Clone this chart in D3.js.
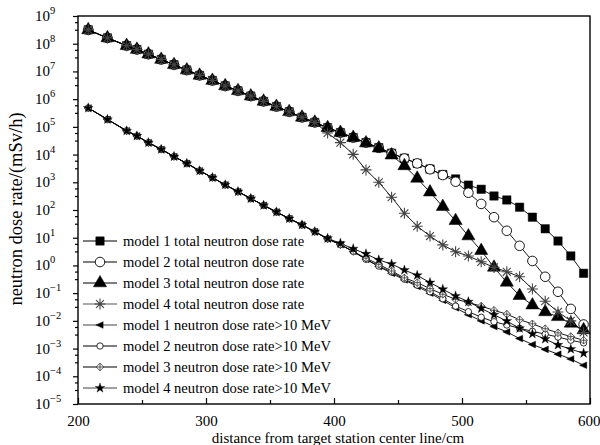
<!DOCTYPE html>
<html>
<head>
<meta charset="utf-8">
<script src="https://cdn.jsdelivr.net/npm/d3@7"></script>
<style>
  body { margin: 0; background: #fff; }
  text { font-family: "Liberation Serif", "Times New Roman", serif; fill: #000; }
</style>
</head>
<body>
<div id="chart"></div>
<script>
// distances (cm)
let distances = [208, 223, 238, 246, 255, 265, 275, 285, 295, 305, 315, 325, 335, 345, 355, 365, 375, 385,
    395, 405, 415, 425, 435, 445, 455, 465, 475, 485, 495, 505, 515, 525, 535, 545, 555, 565, 575, 585, 595];

// the four total curves lie on top of each other up to 385 cm
let totalHead = [3.16e8, 1.62e8, 8.5e7, 6.2e7, 4.2e7, 2.7e7, 1.74e7, 1.12e7, 7.2e6, 4.7e6, 3.0e6, 2.0e6,
    1.29e6, 8.3e5, 5.4e5, 3.5e5, 2.2e5, 1.45e5];
let model1TotalTail = [9.3e4, 6.2e4, 4.1e4, 2.7e4, 1.78e4, 1.12e4, 7.4e3, 4.8e3, 3.0e3, 1.9e3, 1.32e3, 790, 560,
    320, 230, 126, 55, 21, 7.6, 2.2, 0.52];
let model2TotalTail = [9.3e4, 6.2e4, 4.1e4, 2.7e4, 1.74e4, 1.1e4, 7.2e3, 4.8e3, 2.95e3, 1.82e3, 1.05e3, 420, 166,
    55, 17.8, 5.1, 1.45, 0.39, 0.112, 0.027, 0.0074];
let model3TotalTail = [9.3e4, 6.2e4, 4.1e4, 2.6e4, 1.7e4, 9.5e3, 3.9e3, 1.38e3, 440, 132, 41, 11.5, 3.4,
    0.85, 0.245, 0.081, 0.037, 0.021, 0.014, 0.0081, 0.0047];
let model4TotalTail = [6.0e4, 2.7e4, 1.02e4, 2.8e3, 1.0e3, 290, 76, 26, 11.5, 5.5, 3.1, 2.2, 1.35,
    0.85, 0.59, 0.39, 0.141, 0.051, 0.021, 0.01, 0.0038];

// >10 MeV curves, same up to 385 cm
let fastHead = [4.8e5, 1.86e5, 7.2e4, 4.7e4, 2.7e4, 1.55e4, 8.5e3, 4.8e3, 2.6e3, 1.48e3, 810, 460,
    260, 148, 85, 49, 29, 16.6];
let model1FastTail = [9.1, 5.6, 3.2, 1.66, 0.91, 0.52, 0.30, 0.174, 0.1, 0.055, 0.0295, 0.0166, 0.01,
    0.0062, 0.004, 0.0023, 0.0014, 9.3e-4, 6.3e-4, 4.2e-4, 2.5e-4];
let model2FastTail = [9.1, 5.6, 3.2, 1.66, 0.95, 0.575, 0.32, 0.195, 0.112, 0.063, 0.034, 0.0214, 0.0135,
    0.0093, 0.0071, 0.0054, 0.0042, 0.0033, 0.0026, 0.002, 0.0016];
let model3FastTail = [9.1, 5.6, 3.2, 1.82, 1.1, 0.63, 0.355, 0.24, 0.145, 0.091, 0.06, 0.046, 0.034,
    0.024, 0.0174, 0.011, 0.0078, 0.0052, 0.0037, 0.0027, 0.002];
let model4FastTail = [9.5, 6.3, 4.0, 2.6, 1.58, 1.12, 0.68, 0.44, 0.24, 0.138, 0.079, 0.049, 0.028,
    0.0166, 0.0098, 0.0054, 0.0034, 0.0022, 0.00135, 9.5e-4, 6.8e-4];

let seriesNames = [
    "model 1 total neutron dose rate",
    "model 2 total neutron dose rate",
    "model 3 total neutron dose rate",
    "model 4 total neutron dose rate",
    "model 1 neutron dose rate>10 MeV",
    "model 2 neutron dose rate>10 MeV",
    "model 3 neutron dose rate>10 MeV",
    "model 4 neutron dose rate>10 MeV"
];

let xTicks = [200, 300, 400, 500, 600];
let xMinorTicks = [250, 350, 450, 550];
let yExponents = [9, 8, 7, 6, 5, 4, 3, 2, 1, 0, -1, -2, -3, -4, -5];

let width = 600;
let height = 445;
let plotLeft = 78, plotRight = 590, plotTop = 16, plotBottom = 404;

let svg = d3.select("#chart")
    .append("svg")
    .attr("width", width)
    .attr("height", height);

let x = d3.scaleLinear().domain([200, 600]).range([plotLeft, plotRight]);
let y = d3.scaleLog().domain([1e-5, 1e9]).range([plotBottom, plotTop]);

// marker shapes
function asterisk(r) {
    let d = r * 0.72;
    return `M0,${-r}V${r}M${-r},0H${r}M${-d},${-d}L${d},${d}M${-d},${d}L${d},${-d}`;
}
function leftTriangle(r) {
    return `M${-r},0L${r * 0.75},${-r * 0.8}L${r * 0.75},${r * 0.8}Z`;
}
function crossDiamond(r) {
    return `M0,${-r}L${r},0L0,${r}L${-r},0ZM0,${-r}V${r}M${-r},0H${r}`;
}

let styles = [
    { path: d3.symbol(d3.symbolSquare, 70)(), fill: "#000", stroke: "#000", sw: 0.5, line: "#000" },
    { path: d3.symbol(d3.symbolCircle, 72)(), fill: "#fff", stroke: "#000", sw: 0.9, line: "#000" },
    { path: d3.symbol(d3.symbolTriangle, 75)(), fill: "#000", stroke: "#000", sw: 0.5, line: "#000" },
    { path: asterisk(5.5), fill: "none", stroke: "#444", sw: 1.1, line: "#555" },
    { path: leftTriangle(4.2), fill: "#000", stroke: "#000", sw: 0.4, line: "#444" },
    { path: d3.symbol(d3.symbolCircle, 32)(), fill: "#fff", stroke: "#000", sw: 0.8, line: "#000" },
    { path: crossDiamond(3.8), fill: "#fff", stroke: "#333", sw: 0.8, line: "#000" },
    { path: d3.symbol(d3.symbolStar, 30)(), fill: "#000", stroke: "#000", sw: 0.3, line: "#444" }
];

let seriesValues = [
    totalHead.concat(model1TotalTail),
    totalHead.concat(model2TotalTail),
    totalHead.concat(model3TotalTail),
    totalHead.concat(model4TotalTail),
    fastHead.concat(model1FastTail),
    fastHead.concat(model2FastTail),
    fastHead.concat(model3FastTail),
    fastHead.concat(model4FastTail)
];

let series = seriesNames.map(function (name, i) {
    return {
        name: name,
        style: styles[i],
        points: distances.map((d, j) => ({ x: d, y: seriesValues[i][j] }))
    };
});

// axes
let xAxis = d3.axisBottom(x).tickValues(xTicks).tickSize(-6).tickPadding(11).tickFormat(d3.format("d"));
let xMinor = d3.axisBottom(x).tickValues(xMinorTicks).tickSize(-4).tickFormat("");

svg.append("g")
    .attr("transform", `translate(0,${plotBottom})`)
    .call(xAxis)
    .call(g => g.selectAll("text").attr("font-size", 15))
    // last label sits flush with the right edge
    .call(g => g.selectAll("text").filter(d => d == 600).attr("text-anchor", "end").attr("x", 10));
svg.append("g")
    .attr("transform", `translate(0,${plotBottom})`)
    .call(xMinor);

let yMajor = yExponents.map(e => Math.pow(10, e));
let yMinor = [];
yExponents.slice(1).forEach(function (e) {
    yMinor.push(3.2 * Math.pow(10, e), 6 * Math.pow(10, e));
});

svg.append("g")
    .attr("transform", `translate(${plotLeft},0)`)
    .call(d3.axisLeft(y).tickValues(yMajor).tickSize(5).tickFormat(""));
svg.append("g")
    .attr("transform", `translate(${plotLeft},0)`)
    .call(d3.axisLeft(y).tickValues(yMinor).tickSize(3).tickFormat(""));

svg.selectAll(".domain").attr("stroke", "none");
svg.selectAll(".tick line").attr("stroke", "#000").attr("stroke-width", 1.2);

// power-of-ten labels
let yLabels = svg.append("g")
    .selectAll("text")
    .data(yExponents)
    .enter()
    .append("text")
    .attr("x", 35)
    .attr("y", d => y(Math.pow(10, d)) + 5)
    .attr("font-size", 15);
yLabels.append("tspan").text("10");
yLabels.append("tspan")
    .attr("dy", -7)
    .attr("font-size", 10.5)
    .text(d => (d < 0 ? "\u2212" + Math.abs(d) : d));

// frame
svg.append("rect")
    .attr("x", plotLeft)
    .attr("y", plotTop)
    .attr("width", plotRight - plotLeft)
    .attr("height", plotBottom - plotTop)
    .attr("fill", "none")
    .attr("stroke", "#000")
    .attr("stroke-width", 1.4);

let line = d3.line()
    .x(d => x(d.x))
    .y(d => y(d.y));

let plot = svg.append("g");

series.forEach(function (s) {
    plot.append("path")
        .datum(s.points)
        .attr("fill", "none")
        .attr("stroke", "#000")
        .attr("stroke-width", 0.9)
        .attr("d", line);
});

series.forEach(function (s) {
    plot.selectAll(null)
        .data(s.points)
        .enter()
        .append("path")
        .attr("transform", d => `translate(${x(d.x)},${y(d.y)})`)
        .attr("d", s.style.path)
        .attr("fill", s.style.fill)
        .attr("stroke", s.style.stroke)
        .attr("stroke-width", s.style.sw);
});

// legend
let legend = svg.append("g")
    .selectAll("g")
    .data(series)
    .enter()
    .append("g")
    .attr("transform", (d, i) => `translate(0,${241 + i * 21})`);

legend.append("line")
    .attr("x1", 83)
    .attr("x2", 117)
    .attr("stroke", d => d.style.line)
    .attr("stroke-width", 1.2);
legend.append("path")
    .attr("transform", "translate(100,0)")
    .attr("d", d => d.style.path)
    .attr("fill", d => d.style.fill)
    .attr("stroke", d => d.style.stroke)
    .attr("stroke-width", d => d.style.sw);
legend.append("text")
    .attr("x", 123)
    .attr("y", 5)
    .attr("font-size", 14.6)
    .text(d => d.name);

// axis titles
svg.append("text")
    .attr("x", (plotLeft + plotRight) / 2 + 4)
    .attr("y", 443)
    .attr("text-anchor", "middle")
    .attr("font-size", 15)
    .text("distance from target station center line/cm");

svg.append("text")
    .attr("transform", "translate(22,209) rotate(-90)")
    .attr("text-anchor", "middle")
    .attr("font-size", 18.5)
    .text("neutron dose rate/(mSv/h)");
</script>
</body>
</html>
